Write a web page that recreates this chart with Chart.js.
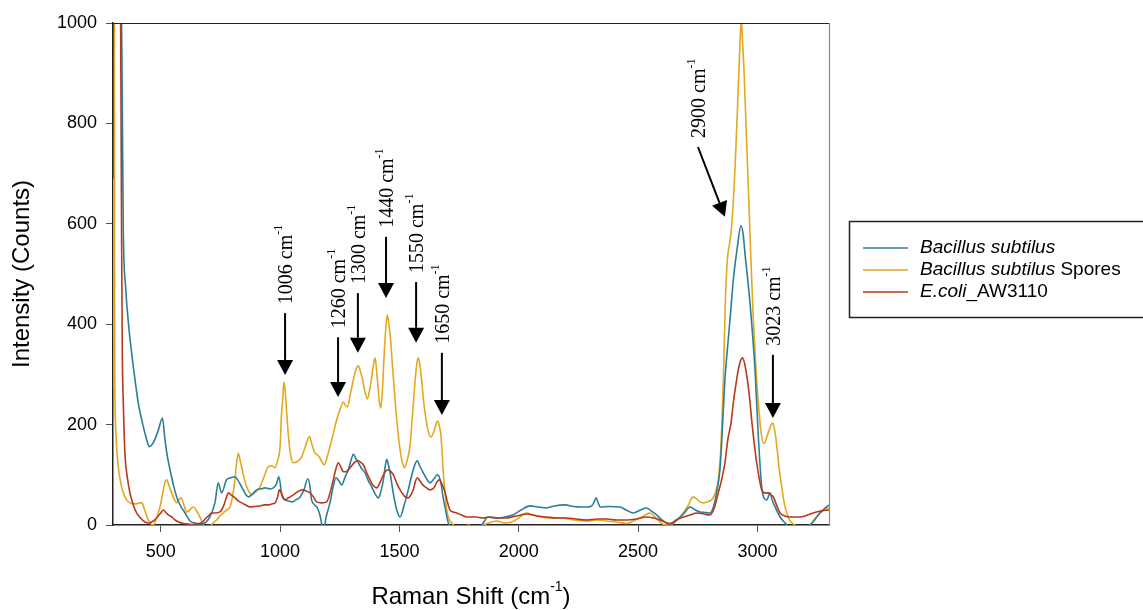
<!DOCTYPE html>
<html lang="en">
<head>
<meta charset="UTF-8">
<title>Raman spectra</title>
<script src="https://cdn.jsdelivr.net/npm/chart.js"></script>
<style>
  * { margin: 0; padding: 0; box-sizing: border-box; }
  body { background: #fff; width: 1143px; height: 610px; overflow: hidden; }
  canvas { display: block; }
</style>
</head>
<body>
<canvas id="ramanChart" width="1143" height="610"></canvas>
<script>
// axis ticks
const xTicks = [500, 1000, 1500, 2000, 2500, 3000];
const yTicks = [0, 200, 400, 600, 800, 1000];

// series: [Raman shift, counts]
const seriesNames = ['Bacillus subtilus', 'Bacillus subtilus Spores', 'E.coli_AW3110'];
const bacillusPts = [
  [300,1200],[330,1200],[336,1000],[339,840],[343,594],[353,474],[365,400],[378,343],[392,290],[406,243],
  [425,200],[440,172],[452,156],[470,165],[490,189],[507,213],[518,169],[528,136],[539,110],[553,80],
  [567,56],[585,36],[602,24],[623,8],[644,4],[665,2],[685,4],[706,16],[727,44],[741,84],[755,64],
  [776,90],[794,94],[811,96],[825,88],[839,76],[855,62],[867,56],[885,62],[902,70],[920,72],[937,74],
  [955,72],[972,74],[985,82],[995,96],[1008,58],[1021,50],[1035,48],[1049,46],[1066,50],[1084,56],
  [1100,70],[1116,92],[1125,78],[1132,50],[1145,40],[1156,34],[1168,18],[1181,-10],[1195,20],[1209,44],
  [1222,75],[1234,94],[1246,88],[1258,80],[1272,95],[1286,110],[1298,130],[1307,141],[1318,132],
  [1328,124],[1342,112],[1356,104],[1370,88],[1384,76],[1398,62],[1412,54],[1422,66],[1433,90],
  [1440,115],[1447,131],[1454,120],[1461,104],[1472,70],[1482,44],[1492,25],[1503,16],[1520,40],
  [1537,70],[1548,92],[1558,110],[1568,124],[1575,128],[1585,118],[1600,104],[1614,92],[1628,84],
  [1645,92],[1658,100],[1665,98],[1677,76],[1683,55],[1691,36],[1704,6],[1712,-5],[1740,-10],
  [1800,-10],[1845,0],[1871,16],[1900,14],[1921,14],[1950,17],[1976,20],[2010,30],[2047,38],[2080,36],
  [2117,34],[2150,38],[2194,40],[2230,37],[2264,36],[2290,36],[2306,38],[2316,46],[2324,54],[2333,44],
  [2341,36],[2380,37],[2424,36],[2450,30],[2480,24],[2510,30],[2536,34],[2555,28],[2578,20],[2600,10],
  [2620,4],[2640,2],[2662,10],[2690,22],[2718,36],[2740,30],[2759,26],[2780,25],[2801,24],[2815,35],
  [2829,64],[2843,110],[2852,180],[2864,290],[2878,370],[2889,430],[2899,488],[2915,550],[2931,596],
  [2940,580],[2948,541],[2969,442],[2990,309],[3004,175],[3018,76],[3030,52],[3039,50],[3053,64],
  [3062,50],[3074,36],[3095,16],[3116,4],[3137,-5],[3180,-8],[3220,0],[3240,10],[3262,24],[3285,34],
  [3300,40]
];
const sporesPts = [
  [300,270],[302,1200],[305,1200],[307,350],[310,209],[316,150],[322,116],[332,85],[343,64],[357,50],
  [371,44],[385,42],[399,42],[410,44],[420,44],[434,28],[448,10],[460,2],[469,0],[483,15],[497,36],
  [511,70],[520,88],[525,90],[535,78],[546,64],[556,52],[567,44],[576,50],[585,54],[597,40],[609,26],
  [622,30],[636,36],[648,30],[664,16],[675,4],[685,-5],[700,-5],[715,2],[734,10],[748,18],[762,24],
  [776,30],[790,36],[800,55],[811,90],[818,125],[825,143],[832,130],[839,116],[850,92],[860,76],
  [870,66],[881,60],[898,66],[916,76],[932,95],[951,116],[965,118],[979,114],[990,130],[1000,156],
  [1006,220],[1011,249],[1016,285],[1021,270],[1027,230],[1034,183],[1044,140],[1055,124],[1070,126],
  [1091,136],[1107,158],[1123,176],[1134,160],[1146,143],[1155,140],[1164,136],[1175,126],[1185,120],
  [1197,135],[1209,156],[1223,182],[1237,209],[1250,228],[1265,245],[1274,238],[1282,235],[1295,262],
  [1307,289],[1318,310],[1328,317],[1337,305],[1346,289],[1356,265],[1366,251],[1375,268],[1384,295],
  [1392,322],[1398,333],[1404,310],[1409,283],[1416,245],[1422,233],[1429,270],[1435,329],[1442,385],
  [1449,418],[1456,400],[1463,369],[1472,310],[1482,249],[1492,195],[1503,149],[1512,125],[1521,114],
  [1532,128],[1544,156],[1555,220],[1565,283],[1572,318],[1579,333],[1586,318],[1593,289],[1603,240],
  [1614,203],[1622,185],[1632,175],[1641,182],[1649,193],[1659,207],[1666,200],[1673,183],[1679,145],
  [1684,104],[1691,65],[1698,30],[1708,12],[1719,4],[1740,-5],[1760,-5],[1790,0],[1820,-5],[1850,0],
  [1880,5],[1910,8],[1940,4],[1970,6],[2000,14],[2033,24],[2060,20],[2089,16],[2130,14],[2173,14],
  [2230,10],[2285,8],[2330,10],[2369,8],[2410,6],[2453,3],[2480,8],[2508,14],[2530,20],[2550,24],
  [2570,16],[2592,6],[2615,0],[2634,0],[2655,6],[2676,16],[2695,28],[2711,40],[2722,52],[2732,56],
  [2745,52],[2760,46],[2773,44],[2790,46],[2808,50],[2822,62],[2836,90],[2845,140],[2851,200],
  [2858,300],[2866,450],[2874,528],[2885,565],[2892,594],[2906,707],[2920,873],[2927,960],[2933,1005],
  [2938,960],[2944,906],[2952,800],[2962,673],[2972,540],[2983,408],[2994,310],[3004,243],[3014,190],
  [3025,163],[3032,164],[3039,175],[3050,190],[3058,200],[3064,203],[3070,195],[3077,175],[3083,149],
  [3092,110],[3102,76],[3112,45],[3123,24],[3137,8],[3151,2],[3170,-5],[3200,-5],[3220,0],[3240,12],
  [3262,24],[3280,30],[3300,34]
];
const ecoliPts = [
  [300,690],[302,1200],[329,1200],[333,900],[336,570],[339,343],[344,230],[350,143],[360,95],[371,64],
  [385,40],[399,24],[415,14],[434,6],[450,4],[469,8],[485,15],[500,24],[511,30],[520,26],[532,20],
  [546,16],[560,10],[575,6],[595,3],[615,2],[630,1],[650,2],[672,5],[690,14],[700,18],[713,24],
  [730,24],[748,26],[765,40],[775,55],[783,64],[795,60],[811,54],[825,48],[839,44],[856,40],[874,36],
  [895,37],[916,38],[935,40],[951,40],[965,42],[979,44],[990,56],[997,70],[1003,66],[1014,54],[1021,50],
  [1035,54],[1055,60],[1073,66],[1091,70],[1108,68],[1125,64],[1140,56],[1153,46],[1175,44],[1195,46],
  [1210,65],[1223,90],[1234,112],[1244,124],[1255,115],[1265,106],[1276,106],[1286,110],[1300,118],
  [1315,126],[1328,128],[1340,124],[1349,120],[1363,104],[1377,90],[1391,78],[1405,74],[1420,86],
  [1433,100],[1444,108],[1454,110],[1465,106],[1475,100],[1490,82],[1503,70],[1520,58],[1537,54],
  [1548,60],[1558,70],[1568,88],[1575,94],[1586,88],[1598,80],[1614,74],[1628,70],[1645,74],[1655,84],
  [1667,90],[1678,82],[1691,66],[1700,48],[1712,30],[1725,26],[1740,24],[1760,20],[1782,16],[1820,16],
  [1850,14],[1880,16],[1915,14],[1950,14],[1990,18],[2033,22],[2075,18],[2117,16],[2160,14],[2201,14],
  [2240,12],[2285,10],[2330,12],[2369,12],[2410,10],[2453,10],[2495,12],[2536,16],[2565,14],[2592,10],
  [2615,5],[2634,3],[2660,10],[2690,16],[2720,20],[2746,24],[2775,22],[2801,20],[2820,35],[2836,64],
  [2850,90],[2864,124],[2876,170],[2890,205],[2899,243],[2910,280],[2920,309],[2930,328],[2938,333],
  [2948,318],[2958,289],[2968,250],[2976,209],[2986,165],[2997,124],[3008,92],[3018,70],[3030,64],
  [3046,64],[3056,60],[3067,56],[3080,40],[3095,24],[3115,18],[3137,16],[3160,16],[3178,16],[3200,18],
  [3234,24],[3265,28],[3300,30]
];

// peak annotations (data coordinates): arrow start -> arrow tip
const peakLabels = ['1006', '1260', '1300', '1440', '1550', '1650', '2900', '3023'];
const peakFromX = [1021, 1243, 1326, 1444, 1570, 1678, 2751, 3065];
const peakFromY = [422, 374, 462, 574, 484, 343, 753, 339];
const peakToX   = [1021, 1243, 1326, 1444, 1570, 1678, 2864, 3065];
const peakToY   = [299, 255, 343, 452, 363, 219, 614, 213];

const legendItalic = ['Bacillus subtilus', 'Bacillus subtilus', 'E.coli'];
const legendPlain  = ['', ' Spores', '_AW3110'];

const lineColors = ['#2c7f98', '#e3a81e', '#b8391c'];
const sansFont = "'Liberation Sans', Arial, sans-serif";
const serifFont = "'Liberation Serif', 'Times New Roman', serif";

function toXY(pts) { return pts.map(p => ({ x: p[0], y: p[1] })); }

// text with a raised "-1" after it, left aligned at x
function drawWithSup(ctx, before, sup, after, size, family, x, y) {
  ctx.font = `${size}px ${family}`;
  ctx.fillText(before, x, y);
  let w = ctx.measureText(before).width;
  ctx.font = `${Math.round(size * 0.6)}px ${family}`;
  ctx.fillText(sup, x + w, y - size * 0.4);
  w += ctx.measureText(sup).width;
  if (after) {
    ctx.font = `${size}px ${family}`;
    ctx.fillText(after, x + w, y);
  }
}
function widthWithSup(ctx, before, sup, after, size, family) {
  ctx.font = `${size}px ${family}`;
  let w = ctx.measureText(before + after).width;
  ctx.font = `${Math.round(size * 0.6)}px ${family}`;
  return w + ctx.measureText(sup).width;
}

const decorPlugin = {
  id: 'decor',
  afterDraw(chart) {
    const ctx = chart.ctx;
    const a = chart.chartArea;
    const xs = chart.scales.x, ys = chart.scales.y;
    ctx.save();

    // top and right frame
    ctx.lineWidth = 1.2;
    ctx.strokeStyle = '#222';
    ctx.beginPath(); ctx.moveTo(a.left, a.top + 0.5); ctx.lineTo(a.right, a.top + 0.5); ctx.stroke();
    ctx.strokeStyle = '#888';
    ctx.beginPath(); ctx.moveTo(a.right + 0.5, a.top); ctx.lineTo(a.right + 0.5, a.bottom); ctx.stroke();

    // axis titles
    ctx.fillStyle = '#000';
    ctx.textBaseline = 'middle';
    ctx.textAlign = 'left';
    const tw = widthWithSup(ctx, 'Raman Shift (cm', '-1', ')', 24, sansFont);
    drawWithSup(ctx, 'Raman Shift (cm', '-1', ')', 24, sansFont, (a.left + a.right) / 2 - tw / 2, 597);
    ctx.save();
    ctx.translate(22, (a.top + a.bottom) / 2);
    ctx.rotate(-Math.PI / 2);
    ctx.textAlign = 'center';
    ctx.font = `24px ${sansFont}`;
    ctx.fillText('Intensity (Counts)', 0, 0);
    ctx.restore();

    // peak arrows and labels
    ctx.fillStyle = '#000';
    ctx.strokeStyle = '#000';
    peakLabels.forEach((lab, i) => {
      const fx = xs.getPixelForValue(peakFromX[i]), fy = ys.getPixelForValue(peakFromY[i]);
      const tx = xs.getPixelForValue(peakToX[i]), ty = ys.getPixelForValue(peakToY[i]);
      const ang = Math.atan2(ty - fy, tx - fx);
      const head = 15, half = 8;
      const bx = tx - head * Math.cos(ang), by = ty - head * Math.sin(ang);
      ctx.lineWidth = 2;
      ctx.beginPath(); ctx.moveTo(fx, fy); ctx.lineTo(bx, by); ctx.stroke();
      ctx.beginPath();
      ctx.moveTo(tx, ty);
      ctx.lineTo(bx + half * Math.sin(ang), by - half * Math.cos(ang));
      ctx.lineTo(bx - half * Math.sin(ang), by + half * Math.cos(ang));
      ctx.closePath(); ctx.fill();

      ctx.save();
      ctx.translate(fx + 2, fy - 9);
      ctx.rotate(-Math.PI / 2);
      ctx.textAlign = 'left';
      ctx.textBaseline = 'middle';
      drawWithSup(ctx, lab + ' cm', '-1', '', 20, serifFont, 0, 0);
      ctx.restore();
    });

    // legend box
    ctx.lineWidth = 1.5;
    ctx.strokeStyle = '#222';
    ctx.strokeRect(849.5, 221.5, 320, 96);
    const rowY = [248, 270, 292];
    legendItalic.forEach((it, i) => {
      ctx.strokeStyle = lineColors[i];
      ctx.lineWidth = 1.5;
      ctx.beginPath(); ctx.moveTo(863, rowY[i]); ctx.lineTo(908, rowY[i]); ctx.stroke();
      ctx.fillStyle = '#000';
      ctx.textAlign = 'left';
      ctx.textBaseline = 'middle';
      ctx.font = `italic 19px ${sansFont}`;
      ctx.fillText(it, 920, rowY[i]);
      const w = ctx.measureText(it).width;
      ctx.font = `19px ${sansFont}`;
      ctx.fillText(legendPlain[i], 920 + w, rowY[i]);
    });
    ctx.restore();
  }
};

const ctx = document.getElementById('ramanChart').getContext('2d');
new Chart(ctx, {
  type: 'line',
  data: {
    datasets: [
      { label: seriesNames[2], data: toXY(ecoliPts), borderColor: lineColors[2] },
      { label: seriesNames[0], data: toXY(bacillusPts), borderColor: lineColors[0] },
      { label: seriesNames[1], data: toXY(sporesPts), borderColor: lineColors[1] }
    ]
  },
  options: {
    responsive: false,
    animation: false,
    devicePixelRatio: 1,
    layout: { padding: { left: 0, right: 314, top: 23, bottom: 0 } },
    elements: {
      point: { radius: 0 },
      line: { borderWidth: 1.6, cubicInterpolationMode: 'monotone', fill: false }
    },
    plugins: { legend: { display: false }, tooltip: { enabled: false } },
    scales: {
      x: {
        type: 'linear',
        min: 300, max: 3300,
        afterBuildTicks: s => { s.ticks = xTicks.map(v => ({ value: v })); },
        afterFit: s => { s.height = 85; },
        grid: { drawOnChartArea: false, drawTicks: true, tickLength: 7, color: '#555' },
        border: { display: true, color: '#222', width: 1.5 },
        ticks: { color: '#000', padding: 9, maxRotation: 0, callback: v => String(v),
                 font: { family: sansFont, size: 18 } }
      },
      y: {
        min: 0, max: 1000,
        afterBuildTicks: s => { s.ticks = yTicks.map(v => ({ value: v })); },
        afterFit: s => { s.width = 113; },
        grid: { drawOnChartArea: false, drawTicks: true, tickLength: 7, color: '#555' },
        border: { display: true, color: '#222', width: 1.5 },
        ticks: { color: '#000', padding: 9, callback: v => String(v),
                 font: { family: sansFont, size: 18 } }
      }
    }
  },
  plugins: [decorPlugin]
});
</script>
</body>
</html>
